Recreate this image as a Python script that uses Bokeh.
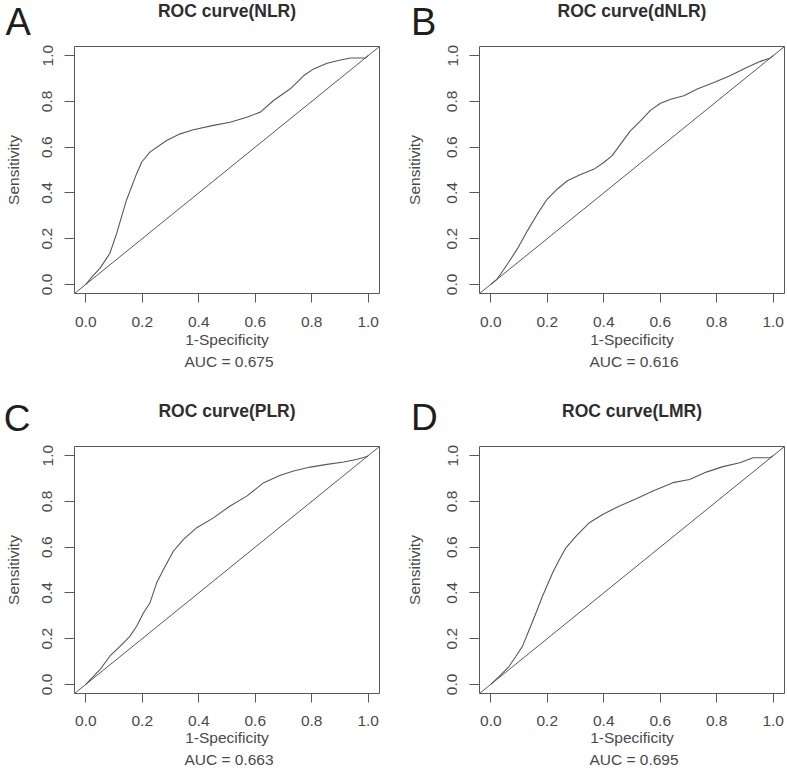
from bokeh.plotting import figure
from bokeh.models import Range1d, FixedTicker, PrintfTickFormatter, Slope
from bokeh.layouts import column, row
from bokeh.core.properties import value
from bokeh.embed import file_html
from bokeh.resources import INLINE

# ---------------- data ----------------
panel_letters = ["A", "B", "C", "D"]
panel_titles = ["ROC curve(NLR)", "ROC curve(dNLR)", "ROC curve(PLR)", "ROC curve(LMR)"]
auc_values = [0.675, 0.616, 0.663, 0.695]
tick_values = [0.0, 0.2, 0.4, 0.6, 0.8, 1.0]
x_label = "1-Specificity"
y_label = "Sensitivity"

fpr_nlr = [0, 0.02, 0.05, 0.085, 0.109, 0.144, 0.18, 0.198, 0.227, 0.286, 0.334, 0.381,
           0.452, 0.511, 0.570, 0.618, 0.665, 0.724, 0.772, 0.807, 0.854, 0.902, 0.937, 0.99, 1.0]
tpr_nlr = [0, 0.03, 0.07, 0.135, 0.222, 0.368, 0.484, 0.535, 0.578, 0.629, 0.658, 0.676,
           0.695, 0.709, 0.731, 0.753, 0.804, 0.855, 0.913, 0.942, 0.967, 0.981, 0.990, 0.990, 1.0]

fpr_dnlr = [0, 0.02, 0.035, 0.059, 0.094, 0.13, 0.165, 0.2, 0.236, 0.271, 0.318, 0.366, 0.401,
            0.43, 0.46, 0.495, 0.531, 0.566, 0.601, 0.637, 0.684, 0.731, 0.79, 0.849, 0.908,
            0.955, 0.99, 1.0]
tpr_dnlr = [0, 0.02, 0.045, 0.089, 0.155, 0.235, 0.308, 0.373, 0.417, 0.453, 0.48, 0.504, 0.534,
            0.563, 0.614, 0.672, 0.716, 0.762, 0.792, 0.809, 0.825, 0.854, 0.883, 0.913, 0.949,
            0.975, 0.99, 1.0]

fpr_plr = [0, 0.05, 0.085, 0.121, 0.156, 0.18, 0.204, 0.227, 0.251, 0.275, 0.31, 0.346, 0.393,
           0.452, 0.511, 0.57, 0.63, 0.689, 0.736, 0.795, 0.854, 0.914, 0.961, 0.996, 1.0]
tpr_plr = [0, 0.064, 0.123, 0.166, 0.21, 0.254, 0.312, 0.356, 0.444, 0.502, 0.582, 0.634, 0.685,
           0.728, 0.78, 0.823, 0.882, 0.914, 0.933, 0.95, 0.962, 0.972, 0.984, 0.996, 1.0]

fpr_lmr = [0, 0.03, 0.065, 0.089, 0.112, 0.136, 0.16, 0.183, 0.219, 0.243, 0.266, 0.302, 0.349,
           0.396, 0.456, 0.515, 0.574, 0.645, 0.704, 0.763, 0.822, 0.882, 0.929, 0.988, 1.0]
tpr_lmr = [0, 0.035, 0.079, 0.123, 0.166, 0.239, 0.312, 0.385, 0.488, 0.546, 0.597, 0.648, 0.707,
           0.743, 0.78, 0.812, 0.845, 0.882, 0.896, 0.928, 0.952, 0.969, 0.991, 0.991, 1.0]

curves = [(fpr_nlr, tpr_nlr), (fpr_dnlr, tpr_dnlr), (fpr_plr, tpr_plr), (fpr_lmr, tpr_lmr)]

# ---------------- layout / style ----------------
AX_MIN, AX_MAX = -0.04, 1.04          # R's default 4% axis expansion
FONT = "Liberation Sans"
TXT = "#4a4a4a"
LINE = "#585858"
TOTAL_W = 787

# panel figures: (width, height, border_left, border_right, border_top, border_bottom,
#                 ylabel_standoff, xtick_label_standoff, xlabel_standoff)
geom = [
    (395, 309, 74, 16, 3, 59, 18, 14, 1),
    (392, 309, 84, 3, 3, 59, 22, 14, 1),
    (395, 306, 74, 16, 3, 56, 18, 13, 0),
    (392, 306, 84, 3, 3, 56, 22, 13, 0),
]

# text strips (page y extents): header above row 1, strip between rows, footer
HEAD_Y = (0, 43)
MID_Y = (352, 443)
FOOT_Y = (749, 768)

# text positions (vertical centre of the text line, page pixels)
frame_center_x = [226.5, 631.5, 226.5, 631.5]
letter_x = [5, 410.6, 3.2, 410.4]
letter_mid = [21.4, 21.4, 418.0, 417.0]
letter_size = ["38px", "38px", "37px", "37px"]
title_mid = [10.2, 10.2, 410.4, 410.4]
auc_x = [228.5, 633.5, 228.5, 633.5]
auc_mid = [361.2, 361.2, 759.2, 759.2]


def make_panel(i):
    w, h, bl, br, bt, bb, ylab_sd, xtick_sd, xlab_sd = geom[i]
    fpr, tpr = curves[i]
    p = figure(width=w, height=h, x_range=Range1d(AX_MIN, AX_MAX), y_range=Range1d(AX_MIN, AX_MAX),
               output_backend="svg", toolbar_location=None,
               min_border_left=bl, min_border_right=br, min_border_top=bt, min_border_bottom=bb,
               background_fill_color="white", border_fill_color="white")
    p.grid.visible = False
    p.outline_line_color = LINE
    p.outline_line_width = 1
    p.outline_line_alpha = 1

    for ax in (p.xaxis[0], p.yaxis[0]):
        ax.ticker = FixedTicker(ticks=tick_values)
        ax.formatter = PrintfTickFormatter(format="%.1f")
        ax.bounds = (0, 1)
        ax.minor_tick_line_color = None
        ax.major_tick_in = 0
        ax.axis_line_color = LINE
        ax.major_tick_line_color = LINE
        ax.major_label_text_font = FONT
        ax.major_label_text_font_size = "15.5px"
        ax.major_label_text_color = TXT
        ax.axis_label_text_font = FONT
        ax.axis_label_text_font_size = "15.5px"
        ax.axis_label_text_font_style = "normal"
        ax.axis_label_text_color = TXT

    xa = p.xaxis[0]
    xa.axis_label = x_label
    xa.major_tick_out = 9
    xa.major_label_standoff = xtick_sd
    xa.axis_label_standoff = xlab_sd

    ya = p.yaxis[0]
    ya.axis_label = y_label
    ya.major_tick_out = 10
    ya.major_label_orientation = "vertical"
    ya.major_label_standoff = 12
    ya.axis_label_standoff = ylab_sd

    p.add_layout(Slope(gradient=1, y_intercept=0, line_color=LINE, line_width=1))
    p.line(fpr, tpr, line_color=LINE, line_width=1.1)
    return p


def make_strip(y0, y1):
    s = figure(width=TOTAL_W, height=y1 - y0, x_range=Range1d(0, TOTAL_W), y_range=Range1d(y1, y0),
               x_axis_type=None, y_axis_type=None, output_backend="svg", toolbar_location=None,
               min_border=0, min_border_left=0, min_border_right=0, min_border_top=0,
               min_border_bottom=0, background_fill_color="white", border_fill_color="white")
    s.grid.visible = False
    s.outline_line_color = None
    return s


def add_letters(s, idx):
    for i in idx:
        s.text(x=[letter_x[i]], y=[letter_mid[i]], text=[panel_letters[i]],
               text_font=value(FONT), text_font_size=value(letter_size[i]),
               text_align="left", text_baseline="middle", text_color="#1e1e1e")


def add_titles(s, idx):
    s.text(x=[frame_center_x[i] for i in idx], y=[title_mid[i] for i in idx],
           text=[panel_titles[i] for i in idx], text_font=value(FONT), text_font_size=value("17.5px"),
           text_font_style="bold", text_align="center", text_baseline="middle",
           text_color="#2e2e2e")


def add_aucs(s, idx):
    s.text(x=[auc_x[i] for i in idx], y=[auc_mid[i] for i in idx],
           text=[f"AUC = {auc_values[i]:.3f}" for i in idx], text_font=value(FONT),
           text_font_size=value("15.5px"), text_align="center", text_baseline="middle",
           text_color=TXT)


head = make_strip(*HEAD_Y)
add_letters(head, [0, 1])
add_titles(head, [0, 1])

mid = make_strip(*MID_Y)
add_aucs(mid, [0, 1])
add_letters(mid, [2, 3])
add_titles(mid, [2, 3])

foot = make_strip(*FOOT_Y)
add_aucs(foot, [2, 3])

panels = [make_panel(i) for i in range(4)]
layout = column(head, row(panels[0], panels[1]), mid, row(panels[2], panels[3]), foot)

open("out.html", "w").write(file_html(layout, INLINE))
